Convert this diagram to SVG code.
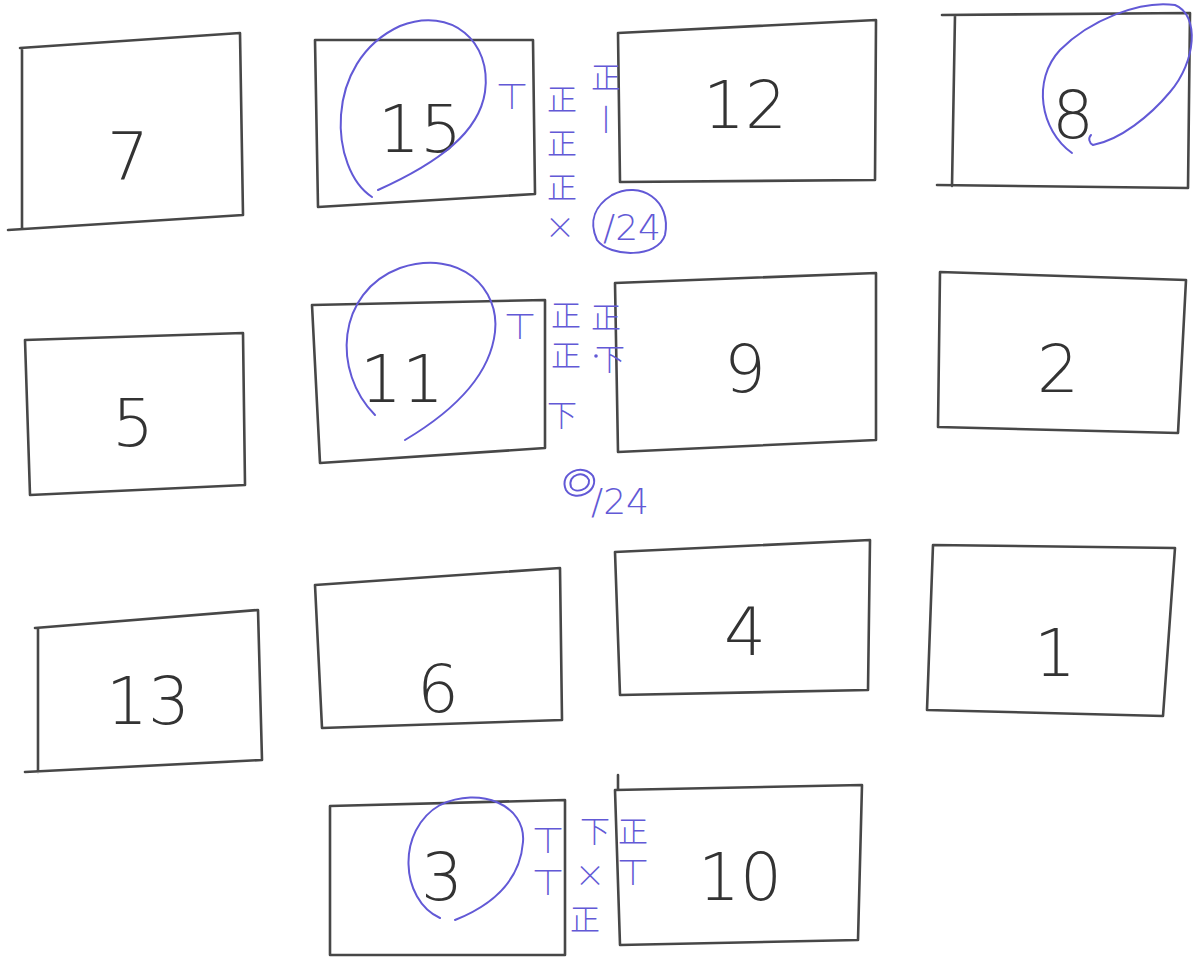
<svg xmlns="http://www.w3.org/2000/svg" width="1197" height="959" viewBox="0 0 1197 959">
<style>
.box{fill:none;stroke:#474747;stroke-width:2.6;stroke-linejoin:round;stroke-linecap:round}
.num{font-family:"DejaVu Sans","Liberation Sans",sans-serif;font-weight:200;font-size:66px;fill:#333;text-anchor:middle}
.ink{fill:none;stroke:#6259d6;stroke-width:2;stroke-linecap:round;stroke-linejoin:round}
.t{font-family:"Noto Sans CJK SC","Noto Sans CJK JP",sans-serif;font-weight:300;font-size:30px;fill:#6259d6;text-anchor:middle}
.tn{font-family:"DejaVu Sans","Liberation Sans",sans-serif;font-weight:200;fill:#6259d6;text-anchor:middle}
</style>
<rect width="1197" height="959" fill="#fff"/>
<g id="connectors"></g>

<g id="n7"><path class="box" d="M20,48 L240,33 L243,215 L8,230 M22,48 L22,228"/><text class="num" x="128" y="180">7</text></g>
<g id="n15"><path class="box" d="M315,40 L533,40 L535,194 L318,207 Z"/><text class="num" x="420" y="152">15</text>
<path class="ink" d="M372,197 C330,170 322,62 400,26 C452,6 492,42 485,92 C479,132 440,162 378,190"/></g>
<g id="n12"><path class="box" d="M618,33 L876,20 L875,180 L620,182 Z"/><text class="num" x="745" y="128">12</text></g>
<g id="n8"><path class="box" d="M942,15 L1190,13 L1188,188 L937,185 M955,15 L952,186"/><text class="num" x="1073" y="138">8</text>
<path class="ink" d="M1072,153 C1040,130 1032,80 1060,50 C1090,20 1140,0 1175,5 C1200,15 1196,62 1170,92 C1150,116 1120,140 1093,145 C1089,143 1088,138 1091,135"/></g>

<g id="n5"><path class="box" d="M25,340 L243,333 L245,485 L30,495 Z"/><text class="num" x="133" y="446">5</text></g>
<g id="n11"><path class="box" d="M312,305 L545,300 L545,448 L320,463 Z"/><text class="num" x="402" y="402">11</text>
<path class="ink" d="M375,415 C332,372 336,292 400,268 C462,248 500,290 495,332 C490,376 452,412 405,440"/></g>
<g id="n9"><path class="box" d="M615,283 L876,273 L876,440 L618,452 Z"/><text class="num" x="745" y="392">9</text></g>
<g id="n2"><path class="box" d="M940,272 L1186,280 L1178,433 L938,427 Z"/><text class="num" x="1058" y="392">2</text></g>

<g id="n13"><path class="box" d="M35,628 L258,610 L262,760 L25,772 M38,628 L38,772"/><text class="num" x="148" y="724">13</text></g>
<g id="n6"><path class="box" d="M315,585 L560,568 L562,720 L322,728 Z"/><text class="num" x="438" y="712">6</text></g>
<g id="n4"><path class="box" d="M615,552 L870,540 L868,690 L620,695 Z"/><text class="num" x="745" y="655">4</text></g>
<g id="n1"><path class="box" d="M933,545 L1175,548 L1163,716 L927,710 Z"/><text class="num" x="1055" y="676">1</text></g>

<g id="n3"><path class="box" d="M330,806 L565,800 L565,955 L330,955 Z"/><text class="num" x="442" y="900">3</text>
<path class="ink" d="M440,918 C400,900 396,830 440,805 C480,786 526,805 523,842 C520,882 490,906 455,920"/></g>
<g id="n10"><path class="box" d="M615,790 L862,785 L858,940 L620,945 Z M618,775 L618,790"/><text class="num" x="740" y="900">10</text></g>

<g id="tally1">
<text class="t" x="512" y="106">丅</text>
<text class="t" x="562" y="110">正</text>
<text class="t" x="562" y="154">正</text>
<text class="t" x="562" y="198">正</text>
<text class="t" x="560" y="238">×</text>
<text class="t" x="606" y="88">正</text>
<text class="t" x="606" y="130">丨</text>
<path class="ink" d="M612,195 C640,180 672,200 665,235 C658,258 610,258 597,240 C588,220 596,205 612,195"/>
<text class="tn" x="632" y="240" font-size="36">/24</text>
</g>
<g id="tally2">
<text class="t" x="520" y="336">丅</text>
<text class="t" x="566" y="326">正</text>
<text class="t" x="566" y="366">正</text>
<text class="t" x="562" y="426">下</text>
<text class="t" x="606" y="328">正</text>
<text class="t" x="610" y="370">下</text>
<circle cx="596" cy="356" r="1.8" fill="#6259d6"/>
<path class="ink" stroke-width="3" d="M566,490 C558,472 584,463 593,476 C600,492 574,503 566,490 Z M571,487 C567,474 585,470 589,480 C590,490 575,494 571,487"/>
<text class="tn" x="620" y="514" font-size="36">/24</text>
</g>
<g id="tally3">
<text class="t" x="548" y="850">丅</text>
<text class="t" x="548" y="892">丅</text>
<text class="t" x="595" y="842">下</text>
<text class="t" x="590" y="886">×</text>
<text class="t" x="585" y="930">正</text>
<text class="t" x="633" y="842">正</text>
<text class="t" x="633" y="882">丅</text>
</g>
</svg>
